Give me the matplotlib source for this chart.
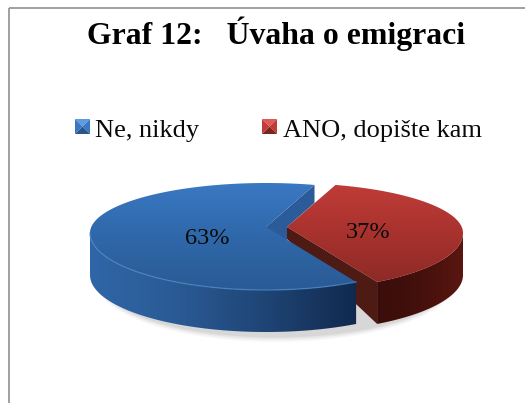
import numpy as np
import matplotlib
matplotlib.use('Agg')
import matplotlib.pyplot as plt
from matplotlib.patches import Polygon, Ellipse, Rectangle
from matplotlib.colors import LinearSegmentedColormap

plt.rcParams['font.family'] = ['Liberation Serif', 'DejaVu Serif']

title = 'Graf 12:   Úvaha o emigraci'
categories = ['Ne, nikdy', 'ANO, dopište kam']
values = [63, 37]

W, H = 525, 403
fig = plt.figure(figsize=(W / 100, H / 100), dpi=100)
ax = fig.add_axes([0, 0, 1, 1])
ax.set_xlim(0, W)
ax.set_ylim(H, 0)
ax.axis('off')

# Pie geometry, angles are clockwise from the top of the ellipse
CX, CY = 266, 233
APEX_Y = 227
A = 176
B_UP, B_DOWN = 50, 57
DEPTH = 42
START = 16
EXPLODE = 21


def rim(t, dx=0, dy=0):
    t = np.radians(t)
    c = np.cos(t)
    y = CY - np.where(c > 0, B_UP, B_DOWN) * c
    return np.column_stack([CX + dx + A * np.sin(t), y + dy])


def gradient(points, colors, horizontal=False, z=2):
    # gradient image clipped to a polygon
    cmap = LinearSegmentedColormap.from_list('g', colors)
    x0, y0 = points.min(axis=0)
    x1, y1 = points.max(axis=0)
    data = np.linspace(0, 1, 256)
    data = data.reshape(1, -1) if horizontal else data.reshape(-1, 1)
    im = ax.imshow(data, cmap=cmap, extent=[x0, x1, y1, y0], aspect='auto',
                   zorder=z, interpolation='bilinear')
    clip = Polygon(points, closed=True, transform=ax.transData)
    im.set_clip_path(clip)
    ax.set_xlim(0, W)
    ax.set_ylim(H, 0)


# angles from the values
red_sweep = values[1] / sum(values) * 360
red_t = np.linspace(START, START + red_sweep, 150)
blue_t = np.linspace(START + red_sweep, START + 360, 300)

# soft shadow under the pie
for grow, alpha in zip([10, 7, 4, 1], [0.05, 0.07, 0.09, 0.12]):
    ax.add_patch(Ellipse((CX + 10, CY + DEPTH + 5), 2 * A + grow, 2 * B_DOWN + grow,
                         facecolor='#808080', edgecolor='none', alpha=alpha, zorder=1))

# blue cut face behind the top
apex_blue = np.array([CX, APEX_Y])
end_blue = rim(START)[0]
ax.add_patch(Polygon([apex_blue, end_blue, end_blue + [0, 18], [CX + EXPLODE, APEX_Y],
                      [CX + EXPLODE, APEX_Y + 16], [CX, APEX_Y + 16]],
                     facecolor='#2b5c99', edgecolor='none', zorder=2))

# red cut face and wall, these sit behind the blue slice
apex_red = np.array([CX + EXPLODE, APEX_Y])
red_rim = rim(red_t, dx=EXPLODE)
end_red = red_rim[-1]
ax.add_patch(Polygon([apex_red, end_red, end_red + [0, DEPTH], apex_red + [0, 12]],
                     facecolor='#4e1a14', edgecolor='none', zorder=2.5))
red_wall_t = red_t[red_t >= 90]
red_wall_rim = rim(red_wall_t, dx=EXPLODE)
red_wall = np.vstack([red_wall_rim, red_wall_rim[::-1] + [0, DEPTH]])
gradient(red_wall, ['#3a0d0b', '#44100c', '#5a1610'], horizontal=True, z=2.6)

# red top
red_top = np.vstack([apex_red, red_rim])
gradient(red_top, ['#c03c38', '#a8322e', '#8e2a26'], z=2.7)

# blue wall
wall_t = blue_t[blue_t <= 270]
wall = rim(wall_t)
blue_wall = np.vstack([wall, wall[::-1] + [0, DEPTH]])
gradient(blue_wall, ['#2f66a8', '#2a5a94', '#1e4474', '#11294d'], horizontal=True, z=3)

# blue top
blue_top = np.vstack([apex_blue, rim(blue_t)])
gradient(blue_top, ['#3a78c2', '#2f68aa', '#2a5a94'], z=4)
ax.plot(*rim(wall_t).T, color='#4a86c8', lw=1, alpha=0.7, zorder=5)

# percent labels
ax.text(207, 238, f'{values[0]}%', ha='center', va='center', fontsize=17.5, color='#0a0a0a', zorder=9)
ax.text(368, 232, f'{values[1]}%', ha='center', va='center', fontsize=17.5, color='#0a0a0a', zorder=9)

# title
ax.text(276.5, 44, title, ha='center', va='baseline', fontsize=22.9, fontweight='bold', color='black')


# legend keys have a bevelled look
def key(x, y, size, top, left, right, bottom):
    c = (x + size / 2, y + size / 2)
    tl, tr, br, bl = (x, y), (x + size, y), (x + size, y + size), (x, y + size)
    for pts, col in [((tl, tr, c), top), ((tr, br, c), right), ((br, bl, c), bottom), ((bl, tl, c), left)]:
        ax.add_patch(Polygon(pts, facecolor=col, edgecolor='none', zorder=3))


key(75, 119, 15, '#5f9be0', '#3a78c2', '#3a78c2', '#28558c')
key(262, 119, 15, '#e05a55', '#c03c38', '#c03c38', '#7e2522')
ax.text(95, 137, categories[0], va='baseline', fontsize=19, color='#0a0a0a')
ax.text(283, 137, categories[1], va='baseline', fontsize=19, color='#0a0a0a')

# frame
ax.add_patch(Rectangle((9, 7.5), W + 20, H + 20, facecolor='none', edgecolor='#999999', lw=1.3, zorder=10))

fig.savefig('out.png', dpi=100)
